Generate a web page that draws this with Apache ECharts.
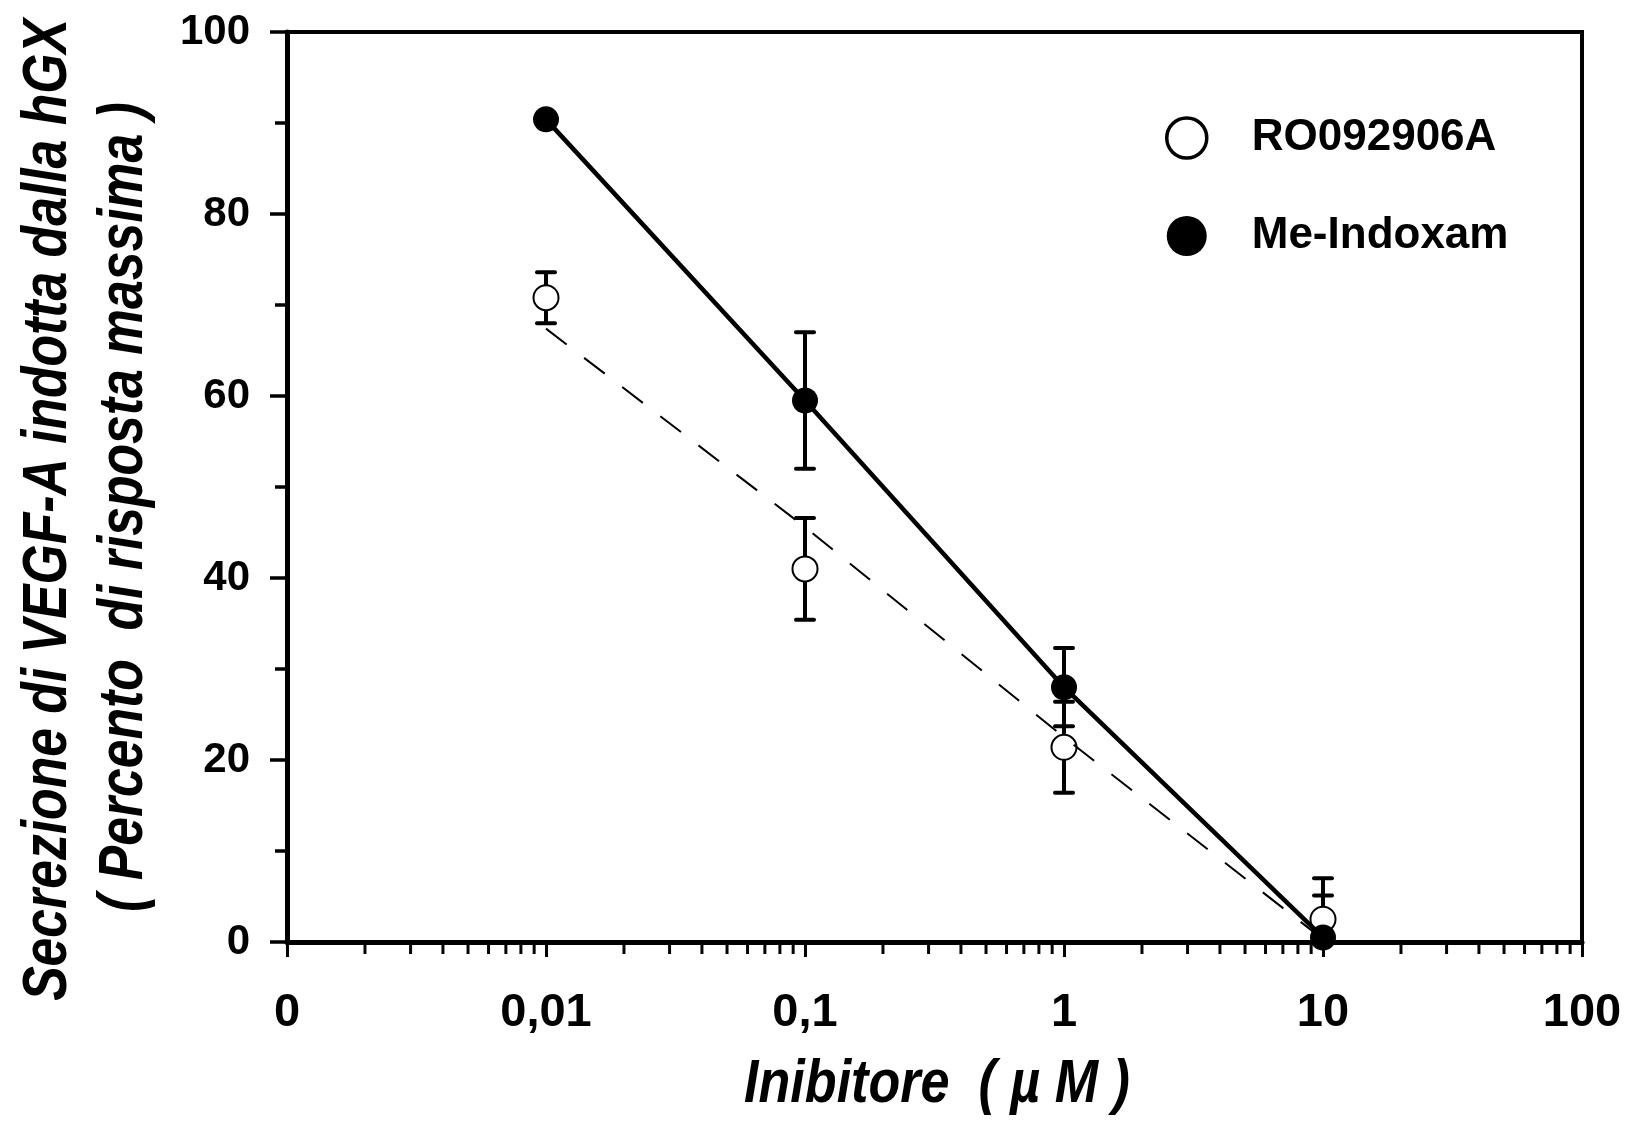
<!DOCTYPE html>
<html><head><meta charset="utf-8">
<script src="https://cdn.jsdelivr.net/npm/echarts@6/dist/echarts.min.js"></script>
<style>html,body{margin:0;padding:0;background:#fff}#c{width:1630px;height:1125px}</style>
</head><body><div id="c"></div><script>
// ---- data ----
const concentrations = [0.01, 0.1, 1, 10];          // µM
const roMean = [70.8, 41.0, 21.4, 2.5];              // RO092906A
const roErr  = [2.8, 5.6, 5.0, 4.5];
const meMean = [90.4, 59.5, 28.0, 0.5];              // Me-Indoxam
const meErr  = [0, 7.5, 4.3, 4.6];
const fitX   = [0.01, 0.1, 1, 10];
const roFit  = [67.4, 45.6, 22.5, 0.3];              // dashed curve
const meFit  = [90.4, 59.5, 28.0, 0.5];              // solid curve
const xTickValues = [0.001, 0.01, 0.1, 1, 10, 100];
const xTickLabels = ['0', '0,01', '0,1', '1', '10', '100'];
const minorMultipliers = [2, 3, 4, 5, 6, 7, 8, 9];

const SANS = '"Liberation Sans", Arial, sans-serif';

const minorTicks = [];
for (let i = 0; i < xTickValues.length - 1; i++) {
  for (const m of minorMultipliers) minorTicks.push([+(xTickValues[i] * m).toPrecision(6), 0]);
}

const pairs = (xs, ys) => xs.map((x, i) => [x, ys[i]]);
const errData = (xs, ys, es) => xs.map((x, i) => [x, ys[i], es[i]]);

function errorBar(params, api) {
  const x = api.value(0), m = api.value(1), e = api.value(2);
  if (!e) return null;
  const t = api.coord([x, m + e]), b = api.coord([x, m - e]);
  const hw = 9, st = {stroke: '#000', lineWidth: 4, lineCap: 'round'};
  return {type: 'group', children: [
    {type: 'line', shape: {x1: t[0], y1: t[1], x2: b[0], y2: b[1]}, style: {stroke: '#000', lineWidth: 4}},
    {type: 'line', shape: {x1: t[0] - hw, y1: t[1], x2: t[0] + hw, y2: t[1]}, style: st},
    {type: 'line', shape: {x1: b[0] - hw, y1: b[1], x2: b[0] + hw, y2: b[1]}, style: st}
  ]};
}

const chart = echarts.init(document.getElementById('c'), null, {renderer: 'canvas'});
chart.setOption({
  animation: false,
  backgroundColor: '#fff',
  grid: {left: 287, top: 32, right: 48, bottom: 183, show: true, borderColor: '#000', borderWidth: 4, backgroundColor: 'transparent'},
  xAxis: {
    type: 'log', logBase: 10, min: 0.001, max: 100,
    axisLine: {show: true, onZero: false, lineStyle: {color: '#000', width: 5}},
    axisTick: {show: true, length: 15, lineStyle: {color: '#000', width: 3}},
    splitLine: {show: false},
    axisLabel: {
      margin: 48, color: '#000', fontFamily: SANS, fontWeight: 'bold', fontSize: 47,
      formatter: v => { const i = Math.round(Math.log10(v)) + 3; return xTickLabels[i] !== undefined ? xTickLabels[i] : ''; }
    }
  },
  yAxis: {
    type: 'value', min: 0, max: 100, interval: 20,
    axisLine: {show: true, onZero: false, lineStyle: {color: '#000', width: 5}},
    axisTick: {show: true, length: 17, lineStyle: {color: '#000', width: 3.5}},
    minorTick: {show: true, splitNumber: 2, length: 12, lineStyle: {color: '#000', width: 3.5}},
    splitLine: {show: false},
    axisLabel: {margin: 37, color: '#000', fontFamily: SANS, fontWeight: 'bold', fontSize: 42}
  },
  legend: {
    orient: 'vertical', left: 1165, top: 116, padding: 0, itemWidth: 40, itemHeight: 40, itemGap: 54,
    selectedMode: false,
    textStyle: {fontFamily: SANS, fontWeight: 'bold', fontSize: 44, color: '#000', padding: [0, 0, 0, 40]},
    data: [
      {name: 'RO092906A', icon: 'circle', itemStyle: {color: '#fff', borderColor: '#000', borderWidth: 3.5}},
      {name: 'Me-Indoxam', icon: 'circle', itemStyle: {color: '#000', borderWidth: 0}}
    ]
  },
  series: [
    {name: 'minorTicks', type: 'custom', data: minorTicks, clip: false, silent: true, z: 5,
     encode: {x: 0, y: 1},
     renderItem: (p, api) => { const c = api.coord([api.value(0), 0]);
       return {type: 'line', shape: {x1: c[0], y1: c[1], x2: c[0], y2: c[1] + 12}, style: {stroke: '#000', lineWidth: 3}}; }},
    {name: 'roErrors', type: 'custom', data: errData(concentrations, roMean, roErr), renderItem: errorBar, clip: true, z: 2, encode: {x: 0, y: 1}},
    {name: 'meErrors', type: 'custom', data: errData(concentrations, meMean, meErr), renderItem: errorBar, clip: true, z: 2, encode: {x: 0, y: 1}},
    {name: 'roFit', type: 'line', data: pairs(fitX, roFit), showSymbol: false, z: 4,
     lineStyle: {color: '#000', width: 2, type: [26, 22]}},
    {name: 'meFit', type: 'line', data: pairs(fitX, meFit), showSymbol: false, z: 4,
     lineStyle: {color: '#000', width: 4.5}},
    {name: 'RO092906A', type: 'scatter', data: pairs(concentrations, roMean), symbol: 'circle', symbolSize: 25, z: 3,
     itemStyle: {color: '#fff', borderColor: '#000', borderWidth: 2, opacity: 1}},
    {name: 'Me-Indoxam', type: 'scatter', data: pairs(concentrations, meMean), symbol: 'circle', symbolSize: 26, z: 3,
     itemStyle: {color: '#000', opacity: 1}}
  ],
  graphic: [
    {type: 'text', x: 49, y: 510, rotation: Math.PI / 2, scaleX: 0.82,
     style: {text: 'Secrezione di VEGF-A indotta dalla hGX', fill: '#000', font: 'italic bold 63px ' + SANS, textAlign: 'center', textVerticalAlign: 'middle', verticalAlign: 'middle'}},
    {type: 'text', x: 125, y: 507, rotation: Math.PI / 2, scaleX: 0.82,
     style: {text: '( Percento  di risposta massima )', fill: '#000', font: 'italic bold 63px ' + SANS, textAlign: 'center', textVerticalAlign: 'middle', verticalAlign: 'middle'}},
    {type: 'text', x: 937, y: 1085, scaleX: 0.84,
     style: {text: 'Inibitore  ( \u00B5 M )', fill: '#000', font: 'italic bold 62px ' + SANS, textAlign: 'center', textVerticalAlign: 'middle', verticalAlign: 'middle'}}
  ]
});
</script></body></html>
